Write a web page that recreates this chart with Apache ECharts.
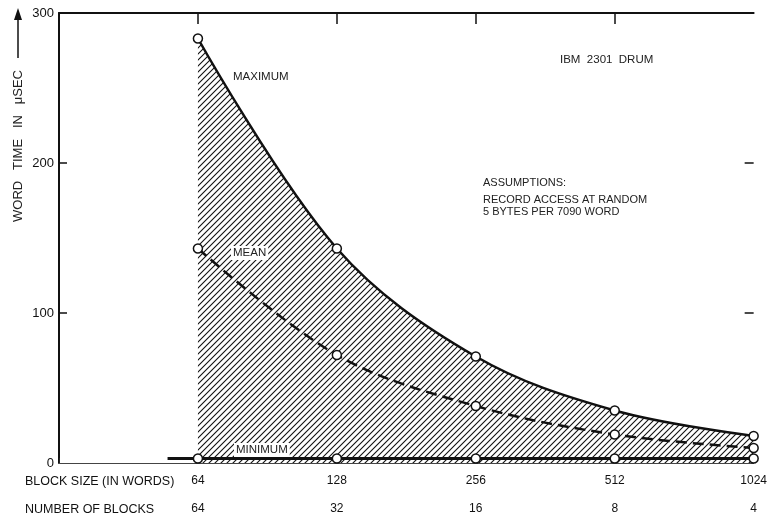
<!DOCTYPE html>
<html>
<head>
<meta charset="utf-8">
<script src="https://cdn.jsdelivr.net/npm/echarts@6/dist/echarts.min.js"></script>
<style>
  html, body { margin: 0; padding: 0; background: #fff; }
  #chart { width: 770px; height: 519px; }
</style>
</head>
<body>
<div id="chart"></div>
<script>
  // block size (words) and values
  var blockSizes = [64, 128, 256, 512, 1024];
  var maxTime = [283, 143, 71, 35, 18];
  var meanTime = [143, 72, 38, 19, 10];
  var minTime = [3, 3, 3, 3, 3];
  // minimum line starts a bit left of the first block size
  var minLeadX = 55;
  var yTicks = [0, 100, 200, 300];
  var font = '"Liberation Sans", Arial, sans-serif';

  // diagonal hatch pattern
  function hatch() {
    var c = document.createElement('canvas');
    c.width = 6; c.height = 6;
    var g = c.getContext('2d');
    g.strokeStyle = '#111';
    g.lineWidth = 1.1;
    g.beginPath();
    g.moveTo(0, 6); g.lineTo(6, 0);
    g.moveTo(-1, 1); g.lineTo(1, -1);
    g.moveTo(5, 7); g.lineTo(7, 5);
    g.stroke();
    return c;
  }

  function pairs(vals) {
    return blockSizes.map(function (x, i) { return [x, vals[i]]; });
  }
  var minLine = [{ value: [minLeadX, minTime[0]], symbol: 'none' }].concat(pairs(minTime));

  var circle = {
    symbol: 'circle',
    symbolSize: 9,
    itemStyle: { color: '#fff', borderColor: '#111', borderWidth: 1.5 }
  };

  var chart = echarts.init(document.getElementById('chart'));
  chart.setOption({
    animation: false,
    textStyle: { fontFamily: font },
    grid: { left: 59, right: 2, top: 13, bottom: 56 },
    xAxis: [
      {
        type: 'log', logBase: 2, min: 32, max: 1024,
        position: 'bottom',
        axisLine: { lineStyle: { color: '#444', width: 1 } },
        axisTick: { inside: true, length: 5, lineStyle: { color: '#222' } },
        splitLine: { show: false },
        axisLabel: {
          color: '#111', fontSize: 12, margin: 12,
          formatter: function (v) { return v < 64 ? '' : String(v); }
        }
      },
      {
        type: 'log', logBase: 2, min: 32, max: 1024,
        position: 'bottom', offset: 28,
        axisLine: { show: false },
        axisTick: { show: false },
        splitLine: { show: false },
        axisLabel: {
          color: '#111', fontSize: 12, margin: 12,
          formatter: function (v) { return v < 64 ? '' : String(4096 / v); }
        }
      },
      {
        type: 'log', logBase: 2, min: 32, max: 1024,
        position: 'top',
        axisLine: { lineStyle: { color: '#111', width: 2 } },
        axisTick: { inside: true, length: 11, customValues: [64, 128, 256, 512], lineStyle: { color: '#111', width: 1.5 } },
        axisLabel: { show: false },
        splitLine: { show: false }
      }
    ],
    yAxis: [
      {
        type: 'value', min: 0, max: 300, interval: 100,
        axisLine: { show: true, lineStyle: { color: '#111', width: 2 } },
        axisTick: { show: true, inside: true, length: 8, customValues: [100, 200], lineStyle: { color: '#111', width: 1.5 } },
        splitLine: { show: false },
        axisLabel: { color: '#111', fontSize: 13, margin: 5, customValues: yTicks }
      },
      {
        type: 'value', min: 0, max: 300, interval: 100,
        position: 'right',
        axisLine: { show: false },
        axisTick: { show: true, inside: true, length: 9, customValues: [100, 200], lineStyle: { color: '#111', width: 1.5 } },
        splitLine: { show: false },
        axisLabel: { show: false }
      }
    ],
    series: [
      {
        name: 'band', type: 'line', data: pairs(maxTime),
        smooth: 0.35, symbol: 'none', lineStyle: { opacity: 0 }, silent: true,
        areaStyle: { color: { image: hatch(), repeat: 'repeat' }, opacity: 1, origin: 'start' }
      },
      Object.assign({
        name: 'MINIMUM', type: 'line', data: minLine,
        lineStyle: { color: '#111', width: 3 }, z: 4
      }, circle),
      Object.assign({
        name: 'MEAN', type: 'line', data: pairs(meanTime), smooth: 0.35,
        lineStyle: { color: '#111', width: 2.5, type: [11, 6] }, z: 4
      }, circle),
      Object.assign({
        name: 'MAXIMUM', type: 'line', data: pairs(maxTime), smooth: 0.35,
        lineStyle: { color: '#111', width: 2.5 }, z: 4
      }, circle)
    ],
    graphic: [
      { type: 'text', x: 18, y: 146, rotation: Math.PI / 2,
        style: { text: 'WORD   TIME   IN   μSEC', font: '13px ' + font, fill: '#222',
                 align: 'center', verticalAlign: 'middle' } },
      { type: 'line', shape: { x1: 18, y1: 58, x2: 18, y2: 18 }, style: { stroke: '#111', lineWidth: 1.5 } },
      { type: 'polygon', shape: { points: [[18, 8], [14, 20], [22, 20]] }, style: { fill: '#111' } },
      { type: 'text', x: 25, y: 482, style: { text: 'BLOCK SIZE (IN WORDS)', font: '12.5px ' + font, fill: '#111', verticalAlign: 'middle' } },
      { type: 'text', x: 25, y: 510, style: { text: 'NUMBER OF BLOCKS', font: '12.5px ' + font, fill: '#111', verticalAlign: 'middle' } },
      { type: 'text', x: 233, y: 77, style: { text: 'MAXIMUM', font: '11.5px ' + font, fill: '#222', verticalAlign: 'middle' } },
      { type: 'text', x: 231, y: 253, z: 5, style: { text: 'MEAN', font: '11.5px ' + font, fill: '#222', verticalAlign: 'middle', backgroundColor: '#fff', padding: [1, 2] } },
      { type: 'text', x: 234, y: 450, z: 5, style: { text: 'MINIMUM', font: '11.5px ' + font, fill: '#222', verticalAlign: 'middle', backgroundColor: '#fff', padding: [1, 2] } },
      { type: 'text', x: 560, y: 60, style: { text: 'IBM  2301  DRUM', font: '11.5px ' + font, fill: '#222', verticalAlign: 'middle' } },
      { type: 'text', x: 483, y: 183, style: { text: 'ASSUMPTIONS:', font: '11px ' + font, fill: '#222', verticalAlign: 'middle' } },
      { type: 'text', x: 483, y: 194, style: { text: 'RECORD ACCESS AT RANDOM\n5 BYTES PER 7090 WORD', font: '11px ' + font, fill: '#222', verticalAlign: 'top', lineHeight: 12 } }
    ]
  });
</script>
</body>
</html>
